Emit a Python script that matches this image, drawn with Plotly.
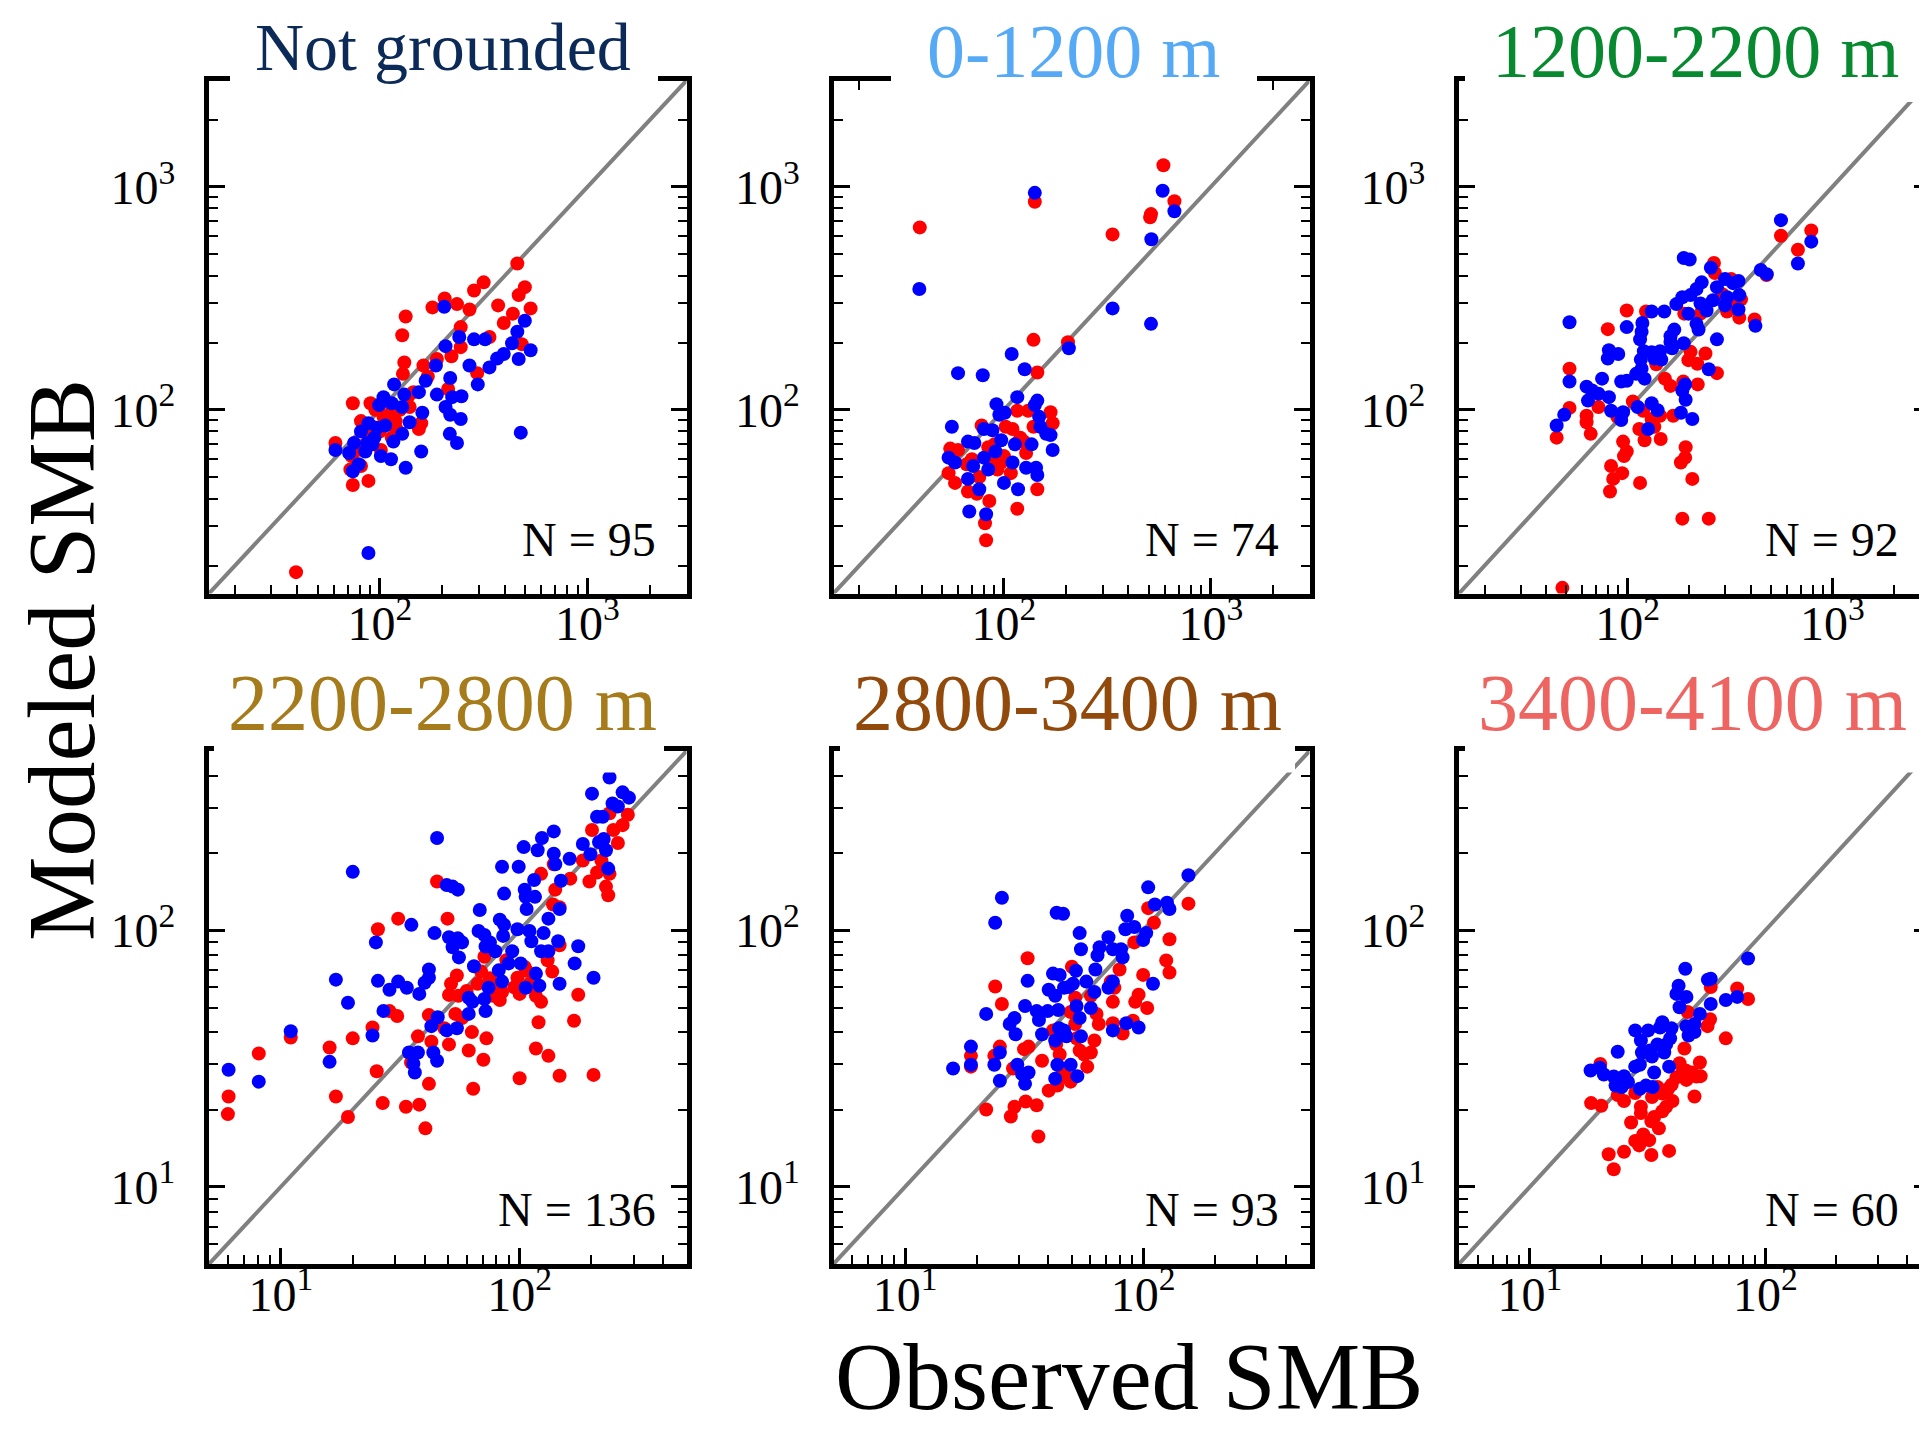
import math
import plotly.graph_objects as go

# ---------------- data (Observed SMB, Modeled SMB) ----------------
panel_titles = ["Not grounded", "0-1200 m", "1200-2200 m",
                "2200-2800 m", "2800-3400 m", "3400-4100 m"]
title_colors = ["#0c2a58", "#56aaf5", "#07892f", "#a67b1b", "#924a0c", "#ee6461"]
n_counts = [95, 74, 92, 136, 93, 60]

red_notgrounded = [(39.4,18.7),(459,453),(316,373),(284,343),(499,355),(466,327),(532,285),(371,294),
    (437,270),(205,316),(235,298),(179,288),(270,282),(133,262),(395,245),(245,235),(128,216),(337,212),
    (482,197),(245,191),(221,174),(188,169),(131,163),(162,158),(294,146),(129,145),(170,141),(213,124),
    (136,114),(114,105),(139,103),(74,107),(90,107),(104,93),(81,89),(119,89),(158,87),(154,82),(89,77),
    (114,75),(61,71),(101,66),(73,62),(81,56),(72,54),(74,46),(88,48),(120,82),(95,100),(110,95),
    (85,70),(100,80),(78,66),(125,100),(145,120),(108,88),(92,84)]
blue_notgrounded = [(88,22.8),(477,79),(204,290),(499,251),(459,224),(241,212),(284,207),(321,207),
    (433,199),(207,193),(532,185),(395,178),(466,169),(367,170),(270,158),(186,158),(337,155),(218,139),
    (166,135),(296,130),(188,117),(117,130),(154,120),(131,117),(247,115),(223,114),(104,114),(114,107),
    (128,103),(99,105),(207,103),(218,95),(160,97),(245,91),(139,88),(106,85),(88,87),(128,78),(217,78),
    (81,80),(94,75),(116,72),(235,71),(87,71),(75,71),(61,66),(71,64),(85,65),(101,62),(158,65),(113,60),
    (79,57),(133,55),(74,53),(92,70),(97,83)]

red_0_1200 = [(39.2,658),(141,857),(590,1250),(667,863),(514,755),(509,730),(335,612),(139,206),
    (204,201),(145,147),(116,99),(131,99),(168,97.5),(172,87),(139,84),(102,84),(110,82),(78,85),(125,72),
    (128,64),(55,67),(60,66),(84,68),(97,58),(66,57),(54,52),(58,47),(76,50),(108,52),(67,43),(74,42),
    (85,39),(145,44),(116,36),(81,31),(82,26),(93,54),(88,60),(100,62),(70,60),(120,75),(90,70)]
blue_0_1200 = [(39,348),(141,940),(585,960),(667,778),(516,582),(335,285),(514,243),(206,189),
    (109,178),(126,152),(60,146),(79,143),(116,114),(145,110),(141,105),(92,106),(101,97),(95,95),
    (148,93),(150,84),(56,84),(160,78),(168,77),(80,82),(88,81),(67,72),(72,71),(97,73),(113,70),
    (136,70),(172,66),(54,61),(58,58),(80,61),(91,65),(110,58),(128,55),(143,55),(145,51),(71,56),
    (84,54),(100,47),(67,49),(76,44),(117,44),(68,35),(82,34)]

red_1200_2200 = [(48,15.9),(561,604),(789,638),(679,522),(477,402),(264,456),(267,411),(320,386),
    (358,313),(306,276),(351,259),(417,254),(227,270),(99,279),(123,276),(80,230),(189,270),(203,182),
    (240,179),(198,167),(219,161),(273,146),(52,153),(138,160),(152,138),(162,128),(220,130),(187,134),
    (52,102),(72,103),(63,94),(63,88),(66,78),(45,75),(106,109),(119,99),(89,93),(131,91),(144,94),
    (167,94),(135,84),(114,82),(121,73),(145,74),(95,72),(99,65),(96,62),(192,68),(191,61),(182,58),
    (83,56),(94,52),(85,49),(82,43),(115,47),(207,49),(185,32.5),(249,32.5),(290,330),(330,300)]
blue_1200_2200 = [(561,709),(789,568),(679,453),(447,424),(478,406),(188,480),(201,472),(255,434),
    (230,373),(299,386),(327,370),(348,378),(273,355),(351,327),(306,320),(261,310),(227,300),(217,348),
    (203,327),(185,320),(173,298),(243,279),(299,294),(348,282),(198,270),(131,276),(151,276),(217,243),
    (222,229),(421,238),(52,247),(99,235),(118,245),(117,224),(115,207),(162,214),(169,229),(162,201),
    (188,199),(273,207),(165,189),(81,185),(90,178),(80,170),(120,183),(131,181),(144,183),(116,168),
    (135,170),(146,168),(249,152),(75,138),(110,145),(117,153),(121,138),(93,134),(99,135),(52,134),
    (63,127),(67,122),(72,118),(81,114),(64,110),(191,130),(185,122),(192,111),(112,103),(131,107),
    (140,99.5),(83,99),(95,97.5),(93,90),(182,97),(207,91),(49,95),(45,85),(126,82)]

red_2200_2800 = [(6.04,22.5),(6.0,19.2),(8.08,33.1),(11.0,38.2),(16.0,34.9),(17.0,22.5),(19.1,18.7),
    (20.0,37.9),(24.2,41.8),(25.2,28.2),(26.7,21.2),(25.5,101),(31.0,111),(28.5,48.4),(30.7,46.3),
    (33.4,20.5),(38.0,20.9),(40.3,16.9),(41.7,25.2),(35.1,30.5),(37.5,38.6),(42.7,36.8),(44.5,43.8),
    (41.7,46.7),(45.1,155),(49.9,111),(51.6,61.9),(54.6,66.6),(50.6,56.0),(55.4,55.5),(48.4,41.5),
    (50.6,35.9),(53.8,47.2),(57.4,45.5),(61.2,34.0),(63.1,40.1),(63.9,24.1),(70.5,31.3),(72.6,37.9),
    (69.0,69.0),(71.2,78.9),(66.7,61.9),(77.4,55.5),(82.6,53.5),(79.1,60.8),(84.4,57.5),(88.0,76.4),
    (97.9,65.3),(100,56.5),(107,69.5),(110,61.9),(100,26.5),(117,34.6),(132,32.4),(120,43.8),
    (117,55.5),(123,52.6),(131,76.4),(137,69.0),(147,27.1),(147,87.4),(138,126),(147,123),(141,144),
    (123,166),(139,181),(163,159),(169,44.4),(176,56.1),(184,187),(204,27.3),(196,155),(201,246),
    (211,168),(220,187),(230,148),(235,137),(220,219),(238,286),(247,246),(270,257),(284,282),
    (258,219),(238,166),(95,60),(105,72),(60,58),(75,65)]
blue_2200_2800 = [(6.04,28.6),(8.08,25.7),(11.0,40.4),(16.0,30.7),(17.0,64.2),(19.1,52.2),(20.0,169),
    (24.2,38.9),(25.0,89.7),(25.5,63.5),(26.9,48.5),(28.5,58.6),(31.0,63.1),(33.7,59.7),(35.2,105),
    (34.4,33.4),(35.9,30.2),(37.5,33.4),(36.4,27.9),(38.0,56.5),(40.0,62.4),(41.7,70.3),(41.7,65.3),
    (42.7,42.3),(43.5,33.4),(45.1,31.0),(45.4,45.8),(45.1,229),(44.0,97.5),(49.5,150),(52.4,148),
    (55.1,144),(50.6,94.0),(52.4,85.9),(55.1,93.0),(57.4,89.7),(55.7,78.4),(49.5,40.7),(54.6,41.5),
    (61.2,54.6),(63.4,52.6),(61.2,47.2),(64.4,72.4),(68.1,120),(67.3,99.3),(71.2,95.8),(72.0,86.5),
    (75.1,89.7),(72.0,48.4),(71.2,54.0),(74.1,59.7),(79.1,82.8),(81.8,69.8),(84.4,63.1),(84.4,177),
    (86.1,139),(82.6,110),(86.1,105),(85.3,95.1),(89.9,74.3),(93.1,82.8),(97.9,101),(99.1,177),
    (104,211),(105,144),(106,135),(107,121),(101,74.3),(106,59.7),(110,99.3),(112,90.6),(116,135),
    (119,205),(115,157),(124,229),(117,67.8),(121,60.8),(123,82.8),(126,97.5),(132,82.8),(132,111),
    (139,243),(139,199),(141,181),(149,156),(147,121),(145,90.6),(147,61.9),(162,190),(170,74.3),
    (176,86.7),(184,217),(198,198),(204,65.3),(201,341),(211,277),(223,277),(215,221),(225,227),
    (230,205),(235,174),(238,394),(245,312),(258,304),(270,345),(287,329)]

red_2800_3400 = [(21.9,20.0),(27.8,18.8),(28.8,20.5),(32.1,21.5),(35.7,20.8),(36.3,15.7),(18.9,32.4),
    (18.9,29.4),(23.7,32.4),(25.0,35.2),(25.5,51.6),(23.9,60.4),(32.7,77.8),(28.4,28.9),(31.6,34.4),
    (33.0,35.2),(37.6,31.0),(40.1,23.7),(43.6,24.8),(41.8,40.7),(43.1,35.9),(44.6,32.8),(45.6,28.9),
    (47.6,26.9),(49.6,25.7),(50.2,72.1),(51.8,54.6),(49.6,48.0),(51.8,43.1),(52.5,37.9),(54.1,34.0),
    (56.5,32.8),(58.2,29.4),(60.3,33.4),(62.4,37.2),(60.3,55.5),(63.7,47.2),(65.1,43.1),(74.6,52.6),
    (73.1,63.1),(75.7,59.7),(79.6,70.3),(74.6,43.4),(82.0,39.6),(90.6,44.4),(92.6,52.6),(95.7,56.1),
    (104,49.8),(100,67.0),(91.8,89.7),(105,122),(111,107),(129,92.3),(125,76.3),(129,68.5),(155,127)]
blue_2800_3400 = [(15.9,28.9),(18.9,35.2),(18.9,29.9),(21.9,47.2),(23.7,29.9),(25.0,33.4),(25.0,25.9),
    (23.9,107),(25.5,134),(27.5,43.1),(28.8,45.5),(29.1,39.3),(29.6,29.9),(31.0,27.5),(31.9,25.2),
    (33.0,27.9),(32.7,63.5),(31.9,50.7),(35.7,48.4),(36.5,44.7),(37.6,39.3),(40.1,58.6),(39.7,48.4),
    (41.8,67.8),(42.7,55.5),(44.0,48.9),(44.6,67.0),(43.3,117),(46.1,116),(46.5,59.7),(48.6,60.1),
    (50.7,61.9),(52.2,69.5),(54.1,97.5),(54.8,84.3),(44.3,41.5),(46.5,40.7),(47.6,38.6),(42.7,37.2),
    (43.6,29.9),(42.7,26.4),(49.6,29.9),(52.9,27.0),(54.8,38.6),(52.5,50.7),(54.1,45.5),(57.7,63.1),
    (62.4,57.5),(60.3,49.8),(63.0,70.3),(64.3,79.8),(65.6,85.9),(71.5,59.7),(71.5,94.0),(74.6,63.1),
    (74.6,84.3),(80.7,84.3),(82.0,78.4),(74.6,40.7),(84.9,43.4),(95.7,41.8),(85.7,114),(84.2,101),
    (91.8,103),(100,91.7),(103,97.5),(105,147),(110,61.9),(112,126),(126,128),(129,121),(155,164)]

red_3400_4100 = [(18.2,21.2),(20.1,20.7),(19.9,30.1),(22.7,11.7),(21.6,13.4),(25.1,13.7),(25.1,21.6),
    (23.6,22.8),(26.9,17.8),(28.0,15.1),(29.1,14.5),(30.3,16.0),(32.1,15.2),(32.8,13.3),(39.0,13.8),
    (29.6,20.5),(29.6,19.4),(28.0,23.2),(32.8,18.0),(33.7,18.7),(35.3,16.9),(36.5,19.7),(37.9,20.5),
    (40.3,21.6),(34.8,24.5),(33.0,22.4),(36.5,23.1),(38.7,24.1),(41.9,26.7),(43.2,30.3),(45.9,28.4),
    (46.2,26.1),(48.7,27.9),(51.0,26.9),(52.7,30.5),(50.0,22.5),(53.1,27.0),(45.3,34.6),(46.8,48.0),
    (56.8,42.3),(58.2,45.0),(58.6,60.1),(67.9,37.9),(75.9,59.3),(84.4,54.0),(40.0,25.0),(44.0,27.5)]
blue_3400_4100 = [(18.1,28.4),(19.8,29.1),(20.6,27.4),(22.7,26.9),(23.6,33.6),(25.1,27.0),(23.1,24.8),
    (24.5,24.5),(26.1,25.6),(28.0,29.4),(28.0,40.7),(29.6,37.2),(29.3,29.9),(29.9,33.4),(29.3,24.1),
    (31.1,24.8),(33.2,24.5),(31.8,40.7),(32.4,34.0),(33.0,32.2),(33.7,27.9),(34.8,35.9),(35.7,41.8),
    (36.5,43.8),(37.2,33.4),(37.9,35.9),(39.0,29.4),(39.9,41.5),(39.4,37.9),(42.8,60.8),(41.9,56.5),
    (43.2,50.1),(45.7,70.8),(46.2,55.0),(46.2,42.3),(47.2,38.9),(50.0,40.1),(50.0,43.1),(52.7,47.2),
    (57.0,64.2),(58.6,64.7),(58.6,51.6),(67.9,53.5),(75.9,55.0),(84.4,77.6)]

red_sets = [red_notgrounded, red_0_1200, red_1200_2200, red_2200_2800, red_2800_3400, red_3400_4100]
blue_sets = [blue_notgrounded, blue_0_1200, blue_1200_2200, blue_2200_2800, blue_2800_3400, blue_3400_4100]

top_limits = [15, 3000]
bottom_limits = [5, 500]
top_ticks = [100, 1000]
bottom_ticks = [10, 100]

# ---------------- layout geometry (pixels) ----------------
W, H = 1927, 1430
col_px = [(201.0, 678.5), (825.5, 1301.5), (1451.0, 1922.0)]
row_px = [(72.5, 585.5), (743.0, 1256.0)]
FONT = "Liberation Serif"

def dom_x(a, b):
    return [a / W, b / W]

def dom_y(top, bottom):
    return [1 - bottom / H, 1 - top / H]

def sup_label(v):
    return "10<sup>%d</sup>" % int(round(math.log10(v)))

def minor_vals(lo, hi):
    vals = []
    d = 10 ** math.floor(math.log10(lo))
    while d <= hi:
        for m in range(2, 10):
            v = m * d
            if lo <= v <= hi:
                vals.append(v)
        d *= 10
    return vals

fig = go.Figure()
layout = dict(width=W, height=H, margin=dict(l=0, r=0, t=0, b=0),
              paper_bgcolor="white", plot_bgcolor="white", showlegend=False)
annotations = []
shapes = []

for i in range(6):
    r, c = divmod(i, 3)
    lims = top_limits if r == 0 else bottom_limits
    ticks = top_ticks if r == 0 else bottom_ticks
    rng = [math.log10(lims[0]), math.log10(lims[1])]
    xname = "xaxis" if i == 0 else "xaxis%d" % (i + 1)
    yname = "yaxis" if i == 0 else "yaxis%d" % (i + 1)
    xref = "x" if i == 0 else "x%d" % (i + 1)
    yref = "y" if i == 0 else "y%d" % (i + 1)
    common = dict(type="log", range=rng, showline=True, linewidth=5, linecolor="black",
                  mirror="allticks", ticks="inside", ticklen=16, tickwidth=2.5, tickcolor="black",
                  tickvals=ticks, ticktext=[sup_label(v) for v in ticks],
                  tickfont=dict(family=FONT, size=48, color="black"),
                  minor=dict(tickvals=minor_vals(lims[0], lims[1]), ticks="inside",
                             ticklen=9, tickwidth=2, tickcolor="black"),
                  showgrid=False, zeroline=False, fixedrange=True)
    layout[xname] = dict(common, domain=dom_x(*col_px[c]), anchor=yref, ticklabelstandoff=-16)
    layout[yname] = dict(common, domain=dom_y(*row_px[r]), anchor=xref, ticklabelstandoff=19)

    fig.add_trace(go.Scatter(x=lims, y=lims, mode="lines", xaxis=xref, yaxis=yref,
                             line=dict(color="#808080", width=4), hoverinfo="skip"))
    red = red_sets[i]
    blue = blue_sets[i]
    fig.add_trace(go.Scatter(x=[p[0] for p in red], y=[p[1] for p in red], mode="markers",
                             xaxis=xref, yaxis=yref,
                             marker=dict(color="#ff0000", size=14, line=dict(width=0))))
    fig.add_trace(go.Scatter(x=[p[0] for p in blue], y=[p[1] for p in blue], mode="markers",
                             xaxis=xref, yaxis=yref,
                             marker=dict(color="#0000ff", size=14, line=dict(width=0))))

    annotations.append(dict(text="N = %d" % n_counts[i], xref=xref + " domain", yref=yref + " domain",
                            x=1, y=0, xanchor="right", yanchor="bottom", xshift=-29, yshift=26,
                            showarrow=False, font=dict(family=FONT, size=48, color="black")))

# white gaps in the top spine behind each panel title, and the titles themselves
title_sizes = [68, 76, 76, 80, 80, 80]
title_center_px = [435, 1065.5, 1687.5, 434, 1059.5, 1684.5]
title_baseline_px = [None, None, None, 730, 730, 730]   # top row: pinned to the page top
gap_px = [(222, 650), (883, 1249), (1457, 1913), (206, 656), (832, 1287), (1457, 1913)]
for i in range(6):
    r = i // 3
    spine = row_px[r][0] - 2.5
    g0, g1 = gap_px[i]
    shapes.append(dict(type="rect", xref="paper", yref="paper", layer="above",
                       x0=g0 / W, x1=g1 / W, y0=1 - (spine + 24) / H, y1=1 - (spine - 45) / H,
                       fillcolor="white", line=dict(width=0)))
    s = title_sizes[i]
    ann = dict(text=panel_titles[i], xref="paper", yref="paper", x=title_center_px[i] / W,
               xanchor="center", borderpad=0, showarrow=False,
               font=dict(family=FONT, size=s, color=title_colors[i]))
    if title_baseline_px[i] is None:
        ann.update(y=1, yanchor="top")
    else:
        ann.update(y=1 - (title_baseline_px[i] - 0.44 * s) / H, yanchor="middle")
    annotations.append(ann)

# axis titles
AX = 95
annotations.append(dict(text="Modeled SMB", xref="paper", yref="paper",
                        x=0, y=1 - 652 / H, borderpad=0,
                        xanchor="left", yanchor="middle", textangle=-90, showarrow=False,
                        font=dict(family=FONT, size=AX, color="black")))
annotations.append(dict(text="Observed SMB", xref="paper", yref="paper",
                        x=1121 / W, y=0, yshift=7, borderpad=0,
                        xanchor="center", yanchor="bottom", showarrow=False,
                        font=dict(family=FONT, size=AX, color="black")))

layout["annotations"] = annotations
layout["shapes"] = shapes
fig.update_layout(**layout)
fig.write_html("out.html")
